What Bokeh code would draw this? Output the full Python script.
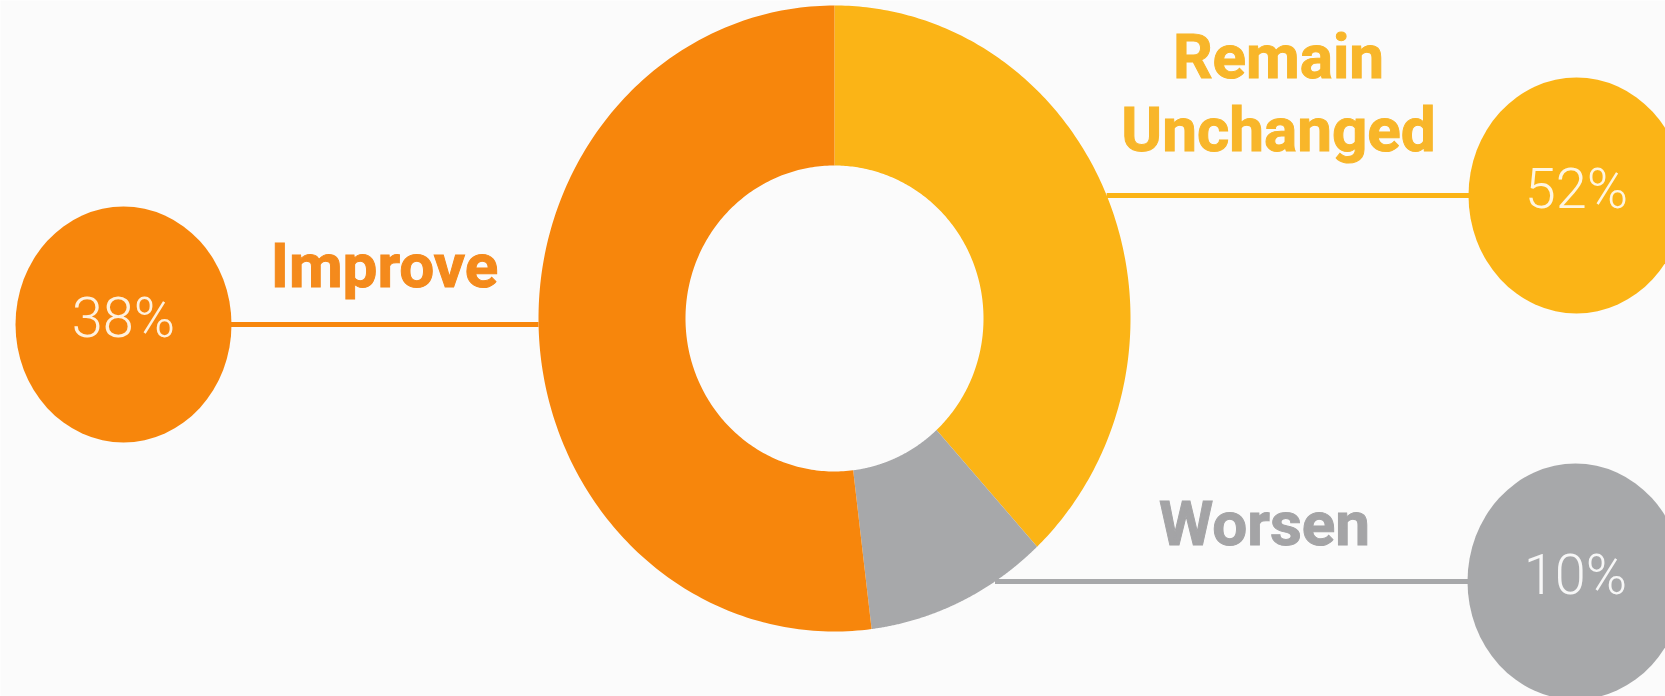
import numpy as np
from bokeh.plotting import figure
from bokeh.models import Range1d, ColumnDataSource
from bokeh.core.properties import value
from bokeh.embed import file_html
from bokeh.resources import INLINE

# ---------------- data ----------------
categories = ["Improve", "Remain Unchanged", "Worsen"]
bubble_pct = [38, 52, 10]          # values printed in the bubbles
ring_share = [52, 38, 10]          # share of the ring each colour covers, as drawn
ring_order = ["Remain Unchanged", "Worsen", "Improve"]   # clockwise from 12 o'clock

fill_colors = ["#F7860C", "#FBB416", "#A7A8AA"]
label_colors = ["#F48A1C", "#F8B62A", "#A4A4A6"]
pct_colors = ["#FFF1DE", "#FFF6E2", "#F7F7F7"]

# ---------------- layout (page pixels) ----------------
W, H = 1665, 696
CX, CY = 834, 318
R_OUT = (296, 313)
R_IN = (149, 153)
bubble_xy = [(123, 324), (1576, 195), (1575, 581)]
BUB_R = (108, 118)
label_xy = [(384, [285]), (1278, [76, 149]), (1264, [543])]
TEXT_DY = -20                      # compensates the renderer's baseline offset
LABEL_SIZE = "62px"
PCT_SIZE = "56px"
LABEL_FONT = "Roboto, 'Liberation Sans', sans-serif"
PCT_FONT = "'Roboto Light', Roboto, sans-serif"
BG = "#FBFBFB"

p = figure(width=W, height=H, output_backend="svg", toolbar_location=None,
           x_range=Range1d(0, W), y_range=Range1d(H, 0),
           x_axis_location=None, y_axis_location=None, min_border=0)
p.grid.visible = False
p.outline_line_color = None
p.background_fill_color = BG
p.border_fill_color = BG

# ---------------- connectors ----------------
for i, cat in enumerate(categories):
    bx, by = bubble_xy[i]
    dy = (by - CY) / R_OUT[1]
    edge = R_OUT[0] * np.sqrt(max(0.0, 1 - dy * dy))
    x0 = CX - edge if bx < CX else CX + edge
    p.line([x0, bx], [by, by], line_color=fill_colors[i], line_width=5)

# ---------------- ring ----------------
xs, ys, cols = [], [], []
ang = 90.0
for cat in ring_order:
    i = categories.index(cat)
    span = ring_share[i] / sum(ring_share) * 360.0
    th = np.radians(np.linspace(ang, ang - span, 200))
    ox = CX + R_OUT[0] * np.cos(th)
    oy = CY - R_OUT[1] * np.sin(th)
    ix = CX + R_IN[0] * np.cos(th[::-1])
    iy = CY - R_IN[1] * np.sin(th[::-1])
    xs.append(list(np.concatenate([ox, ix])))
    ys.append(list(np.concatenate([oy, iy])))
    cols.append(fill_colors[i])
    ang -= span
p.patches(xs=xs, ys=ys, fill_color=cols, line_color=None)

# ---------------- bubbles ----------------
bsrc = ColumnDataSource(dict(
    x=[b[0] for b in bubble_xy], y=[b[1] for b in bubble_xy],
    ty=[b[1] + 13 + TEXT_DY for b in bubble_xy],
    color=fill_colors, tcolor=pct_colors,
    txt=[f"{v}%" for v in bubble_pct]))
p.ellipse(x="x", y="y", width=2 * BUB_R[0], height=2 * BUB_R[1],
          fill_color="color", line_color=None, source=bsrc)
p.text(x="x", y="ty", text="txt", text_color="tcolor", source=bsrc,
       text_font=value(PCT_FONT), text_font_size=PCT_SIZE,
       text_align="center", text_baseline="alphabetic")

# ---------------- labels ----------------
lx, ly, lt, lc = [], [], [], []
for i, cat in enumerate(categories):
    x, bases = label_xy[i]
    parts = cat.split(" ") if len(bases) > 1 else [cat]
    for part, b in zip(parts, bases):
        lx.append(x); ly.append(b + TEXT_DY); lt.append(part); lc.append(label_colors[i])
lsrc = ColumnDataSource(dict(x=lx, y=ly, text=lt, color=lc))
p.text(x="x", y="y", text="text", text_color="color", text_outline_color="color",
       source=lsrc, text_font=value(LABEL_FONT), text_font_style="bold",
       text_font_size=LABEL_SIZE, text_align="center", text_baseline="alphabetic")

open("out.html", "w").write(file_html(p, INLINE))
